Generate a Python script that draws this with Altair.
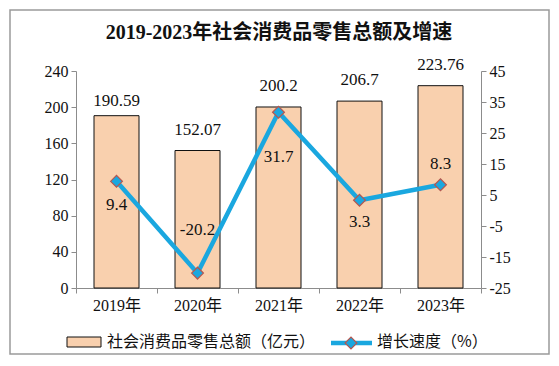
import altair as alt
import pandas as pd

years = ["2019年", "2020年", "2021年", "2022年", "2023年"]
totals = [190.59, 152.07, 200.2, 206.7, 223.76]
growth = [9.4, -20.2, 31.7, 3.3, 8.3]
left_ticks = [0, 40, 80, 120, 160, 200, 240]
right_ticks = [-25, -15, -5, 5, 15, 25, 35, 45]

df = pd.DataFrame({"year": years, "total": totals, "growth": growth})
df["total_label"] = [f"{v:g}" for v in totals]
df["growth_label"] = [f"{v:g}" for v in growth]

SERIF = "Liberation Serif, Noto Sans CJK SC"
CJK = "Noto Sans CJK SC"
W, H = 405, 217
BAR = "#F9D0AE"
LINE = "#1AA7DF"
EDGE = "#B5574F"
AXIS = "#8C8C8C"

# label offsets (pixels) for the labels, style only
g_dy = {"2019年": 24, "2020年": -43, "2021年": 45, "2022年": 22, "2023年": -21}
t_dy = {"2019年": -15, "2020年": -21, "2021年": -21, "2022年": -21, "2023年": -21}

base = alt.Chart(df)
xaxis = alt.Axis(tickBand="extent", labelAngle=0, labelFont=SERIF,
                 labelFontSize=16, labelColor="#111", domainColor=AXIS,
                 tickColor=AXIS, tickSize=5, labelPadding=4)
xscale = alt.Scale(paddingInner=0, paddingOuter=0)


def X():
    return alt.X("year:N", sort=years, title=None, scale=xscale, axis=xaxis)


laxis = alt.Axis(values=left_ticks, orient="left", labelFont=SERIF,
                 labelFontSize=16, labelColor="#111", domainColor=AXIS,
                 tickColor=AXIS, tickSize=5, grid=False, labelPadding=3,
                 labelOverlap=False, labelFlush=False, labelExpr="datum.value")
lscale = alt.Scale(domain=[0, 240], nice=False, zero=True)


def YL():
    return alt.Y("total:Q", title=None, scale=lscale, axis=laxis)


raxis = alt.Axis(values=right_ticks, orient="right", labelFont=SERIF,
                 labelFontSize=16, labelColor="#111", domainColor=AXIS,
                 tickColor=AXIS, tickSize=5, grid=False, labelPadding=3,
                 labelOverlap=False, labelFlush=False, labelExpr="datum.value")
rscale = alt.Scale(domain=[-25, 45], nice=False, zero=False)


def YR():
    return alt.Y("growth:Q", title=None, scale=rscale, axis=raxis)


bars = base.mark_bar(width=45, fill=BAR, stroke="#111", strokeWidth=1).encode(x=X(), y=YL())

bar_labels = alt.layer(*[
    base.transform_filter(alt.datum.year == yr).mark_text(
        dy=t_dy[yr], font=SERIF, fontSize=17, color="#111", baseline="middle"
    ).encode(x=X(), y=YL(), text="total_label:N")
    for yr in years
])

left = alt.layer(bars, bar_labels)

line = base.mark_line(color=LINE, strokeWidth=4.5).encode(x=X(), y=YR())
pts = base.mark_point(shape="diamond", filled=True, size=140, fill=LINE, stroke=EDGE,
                      strokeWidth=1.2, opacity=1).encode(x=X(), y=YR())
g_labels = alt.layer(*[
    base.transform_filter(alt.datum.year == yr).mark_text(
        dy=g_dy[yr], font=SERIF, fontSize=17, color="#111", baseline="middle"
    ).encode(x=X(), y=YR(), text="growth_label:N")
    for yr in years
])
right = alt.layer(line, pts, g_labels)

one = alt.Chart(pd.DataFrame({"a": [0]}))
border = one.mark_rect(fill=None, stroke="#9a9a9a", strokeWidth=1.5, clip=False).encode(
    x=alt.value(-66), x2=alt.value(W + 68), y=alt.value(-61), y2=alt.value(H + 66))
title = one.mark_text(text="2019-2023年社会消费品零售总额及增速", font=SERIF, fontSize=20,
                      fontWeight="bold", color="#111", baseline="middle", align="center").encode(
    x=alt.value(203), y=alt.value(-38))
sw = one.mark_rect(fill=BAR, stroke="#111", strokeWidth=1).encode(
    x=alt.value(-9), x2=alt.value(25), y=alt.value(266), y2=alt.value(276))
lt1 = one.mark_text(text="社会消费品零售总额（亿元）", font=CJK, fontSize=16, color="#111",
                    align="left", baseline="middle").encode(x=alt.value(31), y=alt.value(271))
lline = one.mark_rule(color=LINE, strokeWidth=4.5).encode(
    x=alt.value(255), x2=alt.value(296), y=alt.value(272))
ldia = one.mark_point(shape="diamond", filled=True, size=140, fill=LINE, stroke=EDGE,
                      strokeWidth=1.2, opacity=1).encode(x=alt.value(275), y=alt.value(272))
lt2 = one.mark_text(text="增长速度（%）", font=CJK, fontSize=16, color="#111",
                    align="left", baseline="middle").encode(x=alt.value(301), y=alt.value(271))

chart = alt.layer(border, left, right, title, sw, lt1, lline, ldia, lt2).resolve_scale(
    y="independent"
).properties(
    width=W, height=H,
    autosize=alt.AutoSizeParams(type="none"),
    padding={"left": 68, "top": 63, "right": 70, "bottom": 68},
    background="white",
).configure_view(stroke=None)

chart.save("out.html", embed_options={"renderer": "svg", "actions": False})
